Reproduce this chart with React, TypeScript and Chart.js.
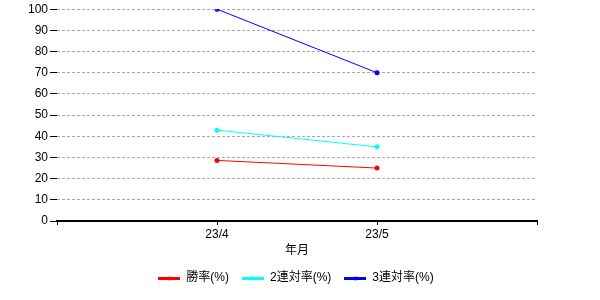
import React, { useEffect, useRef } from "react";
import { Chart, registerables } from "chart.js";
Chart.register(...registerables);

const categories = ["", "23/4", "23/5", ""];
const winRate = [null, 28.6, 25.0, null];
const top2Rate = [null, 42.9, 35.0, null];
const top3Rate = [null, 100, 70, null];
const seriesNames = ["勝率(%)", "2連対率(%)", "3連対率(%)"];
const seriesColors = ["#ff0000", "#00ffff", "#0000ff"];
const xTitle = "年月";
const yMin = 0;
const yMax = 100;
const yStep = 10;

const FONT = "'Liberation Sans', 'Noto Sans CJK JP', sans-serif";

function legendImage(color: string): HTMLCanvasElement {
  const c = document.createElement("canvas");
  c.width = 22;
  c.height = 8;
  const ctx = c.getContext("2d")!;
  ctx.fillStyle = color;
  ctx.fillRect(0, 3, 22, 3);
  ctx.beginPath();
  ctx.arc(11, 4.5, 2, 0, Math.PI * 2);
  ctx.fill();
  return c;
}

export default function App() {
  const ref = useRef<HTMLCanvasElement | null>(null);
  useEffect(() => {
    document.body.style.margin = "0";
    const series = [winRate, top2Rate, top3Rate];
    const images = seriesColors.map(legendImage);
    const chart = new Chart(ref.current!, {
      type: "line",
      data: {
        labels: categories,
        datasets: series.map((d, i) => ({
          label: seriesNames[i],
          data: d,
          yAxisID: "y",
          borderColor: seriesColors[i],
          backgroundColor: seriesColors[i],
          borderWidth: 1,
          pointRadius: 2.5,
          pointHoverRadius: 2.5,
          pointBorderWidth: 0,
          fill: false,
          tension: 0,
        })),
      },
      options: {
        animation: false,
        responsive: false,
        maintainAspectRatio: false,
        layout: { padding: { left: 0, right: 8, top: 9, bottom: 6 } },
        plugins: {
          tooltip: { enabled: false },
          legend: {
            position: "bottom",
            labels: {
              usePointStyle: true,
              pointStyleWidth: 22,
              padding: 13,
              color: "#000",
              font: { family: FONT, size: 12 },
              generateLabels: (ch: any) =>
                ch.data.datasets.map((ds: any, i: number) => ({
                  text: ds.label,
                  pointStyle: images[i],
                  fillStyle: seriesColors[i],
                  strokeStyle: seriesColors[i],
                  lineWidth: 0,
                  fontColor: "#000",
                  hidden: false,
                  datasetIndex: i,
                })),
            },
          },
        },
        scales: {
          x: {
            type: "category",
            offset: false,
            afterFit: (s: any) => {
              s.height = 38;
            },
            grid: {
              drawOnChartArea: false,
              drawTicks: true,
              tickLength: 4,
              color: "#000",
              tickColor: "#000",
              lineWidth: 1,
            },
            border: { display: true, color: "#000", width: 2 },
            ticks: {
              autoSkip: false,
              maxRotation: 0,
              padding: 2,
              color: "#000",
              font: { family: FONT, size: 12 },
            },
            title: {
              display: true,
              text: xTitle,
              color: "#000",
              font: { family: FONT, size: 12 },
              padding: { top: 0, bottom: 1 },
            },
          },
          y: {
            position: "left",
            min: yMin,
            max: yMax,
            afterFit: (s: any) => {
              s.width = 57;
            },
            grid: {
              color: "#aaaaaa",
              lineWidth: 1,
              tickLength: 7,
              tickColor: "#000",
              tickBorderDash: [],
              tickWidth: 1,
            },
            border: { display: false, dash: [3, 2] },
            ticks: {
              stepSize: yStep,
              padding: 2,
              color: "#000",
              font: { family: FONT, size: 12 },
            },
          },
          yRight: {
            position: "right",
            display: true,
            afterFit: (s: any) => {
              s.width = 55;
            },
            grid: { display: false, drawTicks: false },
            border: { display: false },
            ticks: { display: false },
          },
        },
      },
    } as any);
    return () => chart.destroy();
  }, []);
  return (
    <div style={{ position: "fixed", left: 0, top: 0, width: 600, height: 300, background: "#fff" }}>
      <canvas ref={ref} width={600} height={300} style={{ width: 600, height: 300 }} />
    </div>
  );
}
